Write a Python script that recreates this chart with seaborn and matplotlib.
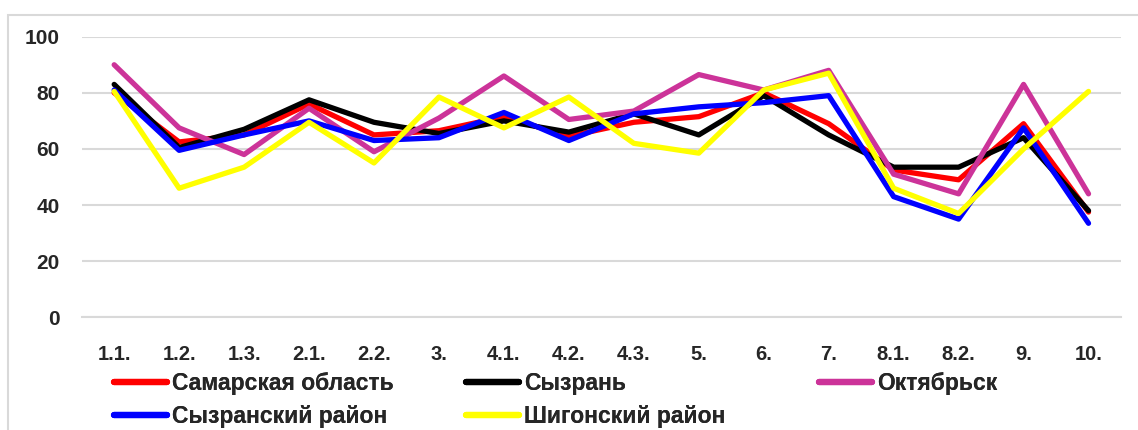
import numpy as np
import pandas as pd
import matplotlib
matplotlib.use("Agg")
import matplotlib.pyplot as plt
import seaborn as sns
from matplotlib.patches import Rectangle

# --- chart data ---
categories = ["1.1.", "1.2.", "1.3.", "2.1.", "2.2.", "3.", "4.1.", "4.2.",
              "4.3.", "5.", "6.", "7.", "8.1.", "8.2.", "9.", "10."]
series_names = ["Самарская область", "Сызрань", "Октябрьск",
                "Сызранский район", "Шигонский район"]
samara = [80, 62.5, 65, 76, 65, 66.5, 71.5, 64.5, 69.5, 71.5, 80, 69, 52.5, 49, 69, 37.5]
syzran = [83, 60.5, 67, 77.5, 69.5, 65.5, 70, 66, 72.5, 65, 79, 65, 53.5, 53.5, 64, 38]
oktyabrsk = [90, 67.5, 58, 74.5, 59, 71, 86, 70.5, 73.5, 86.5, 81, 88, 51, 44, 83, 44]
syzran_rayon = [81, 59.5, 65, 70, 63, 64, 73, 63, 72.5, 75, 76.5, 79, 43, 35, 67.5, 33.5]
shigony = [80.5, 46, 53.5, 69.5, 55, 78.5, 67.5, 78.5, 62, 58.5, 81, 87, 46, 37, 60, 80.5]
y_ticks = [0, 20, 40, 60, 80, 100]

colors = ["#FF0000", "#000000", "#CC3399", "#0000FF", "#FFFF00"]

df = pd.DataFrame({
    "cat": categories * 5,
    "value": samara + syzran + oktyabrsk + syzran_rayon + shigony,
    "series": np.repeat(series_names, len(categories)),
})

sns.set_style("white")
plt.rcParams["font.family"] = ["Liberation Sans", "DejaVu Sans"]
plt.rcParams["font.weight"] = "bold"

W, H = 1138, 430
fig = plt.figure(figsize=(W / 100, H / 100), dpi=100)
ax = fig.add_axes([81.7 / W, 1 - 317.3 / H, (1121 - 81.7) / W, (317.3 - 36.7) / H])

sns.lineplot(data=df, x="cat", y="value", hue="series", hue_order=series_names,
             palette=colors, linewidth=3.8, sort=False, ax=ax, legend="brief")

leg = ax.get_legend()
handles = list(leg.legend_handles)
labels = [t.get_text() for t in leg.get_texts()]
leg.remove()

ax.set_xlim(-0.5, len(categories) - 0.5)
ax.set_ylim(0, 100)
ax.set_yticks(y_ticks)
ax.set_xlabel("")
ax.set_ylabel("")

# gridlines and axis styling
grid_c = "#D9D9D9"
ax.yaxis.grid(True, color=grid_c, linewidth=1.5)
ax.set_axisbelow(True)
for s in ["top", "right", "left"]:
    ax.spines[s].set_visible(False)
ax.spines["bottom"].set_color(grid_c)
ax.spines["bottom"].set_linewidth(1.5)

ax.set_xticks(range(len(categories)))
ax.set_xticklabels(categories)
ax.set_xticks(np.arange(-0.5, len(categories), 1), minor=True)
ax.tick_params(axis="x", which="major", length=0, pad=20, labelsize=14.5)
ax.tick_params(axis="x", which="minor", length=11, direction="inout",
               color=grid_c, width=1.5)
ax.tick_params(axis="y", length=0, pad=16, labelsize=15)
for t in ax.get_xticklabels() + ax.get_yticklabels():
    t.set_fontweight("bold")

# outer chart frame
fig.patches.append(Rectangle((8 / W, -0.1), 1.2, 1.1 - 15 / H,
                             transform=fig.transFigure, fill=False,
                             edgecolor=grid_c, linewidth=1.5, zorder=0))

# legend: three columns placed like the original
col_x = [114, 466, 819]
groups = [[0, 3], [1, 4], [2]]
for cx, grp in zip(col_x, groups):
    lg = fig.legend([handles[i] for i in grp], [labels[i] for i in grp],
                    loc="upper left", bbox_to_anchor=(cx / W, 1 - 372 / H),
                    frameon=False, borderpad=0, borderaxespad=0,
                    handlelength=2.3, handletextpad=0.22, labelspacing=0.45,
                    prop={"weight": "bold", "size": 16.5})
    for h in lg.legend_handles:
        h.set_linewidth(4.5)
    fig.add_artist(lg)

fig.savefig("out.png", dpi=100)
